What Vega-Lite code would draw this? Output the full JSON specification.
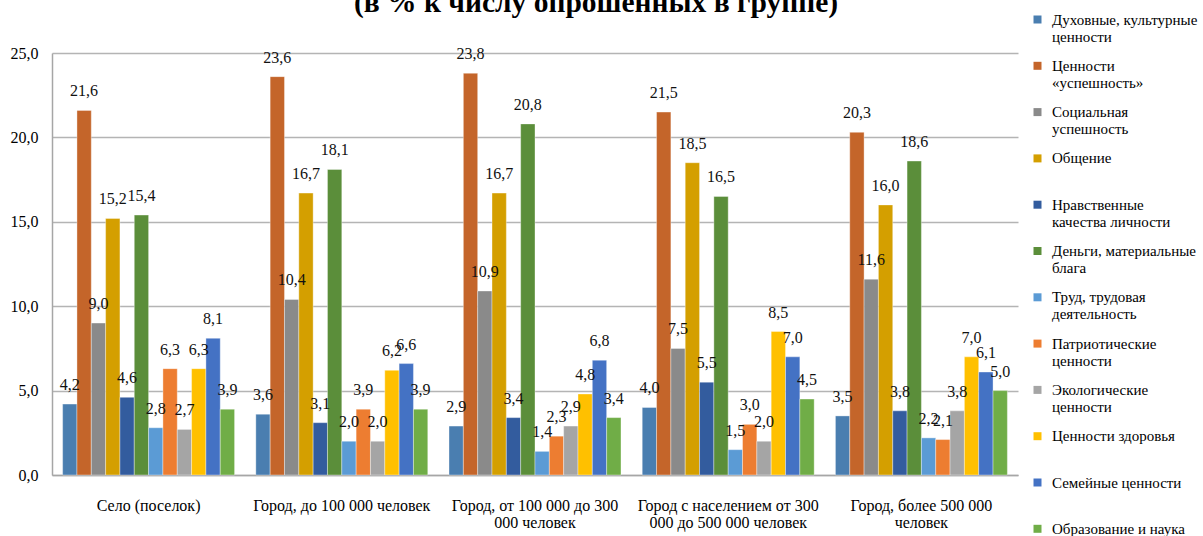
{
  "$schema": "https://vega.github.io/schema/vega-lite/v6.json",
  "width": 966,
  "height": 422,
  "autosize": {"type": "none"},
  "padding": {"left": 52, "top": 53, "right": 185, "bottom": 61},
  "background": "white",
  "title": {
    "text": "(в % к числу опрошенных в группе)",
    "font": "Liberation Serif, Times New Roman, serif",
    "fontSize": 29.5,
    "fontWeight": "bold",
    "color": "#000000",
    "anchor": "middle",
    "frame": "group",
    "dx": 61,
    "dy": 40,
    "offset": 34
  },
  "data": {
    "values": [
      {"g": "Село (поселок)", "s": "Духовные, культурные ценности", "v": 4.2},
      {"g": "Село (поселок)", "s": "Ценности «успешность»", "v": 21.6},
      {"g": "Село (поселок)", "s": "Социальная успешность", "v": 9.0},
      {"g": "Село (поселок)", "s": "Общение", "v": 15.2},
      {"g": "Село (поселок)", "s": "Нравственные качества личности", "v": 4.6},
      {"g": "Село (поселок)", "s": "Деньги, материальные блага", "v": 15.4},
      {"g": "Село (поселок)", "s": "Труд, трудовая деятельность", "v": 2.8},
      {"g": "Село (поселок)", "s": "Патриотические ценности", "v": 6.3},
      {"g": "Село (поселок)", "s": "Экологические ценности", "v": 2.7},
      {"g": "Село (поселок)", "s": "Ценности здоровья", "v": 6.3},
      {"g": "Село (поселок)", "s": "Семейные ценности", "v": 8.1},
      {"g": "Село (поселок)", "s": "Образование и наука", "v": 3.9},
      {"g": "Город, до 100 000 человек", "s": "Духовные, культурные ценности", "v": 3.6},
      {"g": "Город, до 100 000 человек", "s": "Ценности «успешность»", "v": 23.6},
      {"g": "Город, до 100 000 человек", "s": "Социальная успешность", "v": 10.4},
      {"g": "Город, до 100 000 человек", "s": "Общение", "v": 16.7},
      {"g": "Город, до 100 000 человек", "s": "Нравственные качества личности", "v": 3.1},
      {"g": "Город, до 100 000 человек", "s": "Деньги, материальные блага", "v": 18.1},
      {"g": "Город, до 100 000 человек", "s": "Труд, трудовая деятельность", "v": 2.0},
      {"g": "Город, до 100 000 человек", "s": "Патриотические ценности", "v": 3.9},
      {"g": "Город, до 100 000 человек", "s": "Экологические ценности", "v": 2.0},
      {"g": "Город, до 100 000 человек", "s": "Ценности здоровья", "v": 6.2},
      {"g": "Город, до 100 000 человек", "s": "Семейные ценности", "v": 6.6},
      {"g": "Город, до 100 000 человек", "s": "Образование и наука", "v": 3.9},
      {"g": "Город, от 100 000 до 300 000 человек", "s": "Духовные, культурные ценности", "v": 2.9},
      {"g": "Город, от 100 000 до 300 000 человек", "s": "Ценности «успешность»", "v": 23.8},
      {"g": "Город, от 100 000 до 300 000 человек", "s": "Социальная успешность", "v": 10.9},
      {"g": "Город, от 100 000 до 300 000 человек", "s": "Общение", "v": 16.7},
      {"g": "Город, от 100 000 до 300 000 человек", "s": "Нравственные качества личности", "v": 3.4},
      {"g": "Город, от 100 000 до 300 000 человек", "s": "Деньги, материальные блага", "v": 20.8},
      {"g": "Город, от 100 000 до 300 000 человек", "s": "Труд, трудовая деятельность", "v": 1.4},
      {"g": "Город, от 100 000 до 300 000 человек", "s": "Патриотические ценности", "v": 2.3},
      {"g": "Город, от 100 000 до 300 000 человек", "s": "Экологические ценности", "v": 2.9},
      {"g": "Город, от 100 000 до 300 000 человек", "s": "Ценности здоровья", "v": 4.8},
      {"g": "Город, от 100 000 до 300 000 человек", "s": "Семейные ценности", "v": 6.8},
      {"g": "Город, от 100 000 до 300 000 человек", "s": "Образование и наука", "v": 3.4},
      {"g": "Город с населением от 300 000 до 500 000 человек", "s": "Духовные, культурные ценности", "v": 4.0},
      {"g": "Город с населением от 300 000 до 500 000 человек", "s": "Ценности «успешность»", "v": 21.5},
      {"g": "Город с населением от 300 000 до 500 000 человек", "s": "Социальная успешность", "v": 7.5},
      {"g": "Город с населением от 300 000 до 500 000 человек", "s": "Общение", "v": 18.5},
      {"g": "Город с населением от 300 000 до 500 000 человек", "s": "Нравственные качества личности", "v": 5.5},
      {"g": "Город с населением от 300 000 до 500 000 человек", "s": "Деньги, материальные блага", "v": 16.5},
      {"g": "Город с населением от 300 000 до 500 000 человек", "s": "Труд, трудовая деятельность", "v": 1.5},
      {"g": "Город с населением от 300 000 до 500 000 человек", "s": "Патриотические ценности", "v": 3.0},
      {"g": "Город с населением от 300 000 до 500 000 человек", "s": "Экологические ценности", "v": 2.0},
      {"g": "Город с населением от 300 000 до 500 000 человек", "s": "Ценности здоровья", "v": 8.5},
      {"g": "Город с населением от 300 000 до 500 000 человек", "s": "Семейные ценности", "v": 7.0},
      {"g": "Город с населением от 300 000 до 500 000 человек", "s": "Образование и наука", "v": 4.5},
      {"g": "Город, более 500 000 человек", "s": "Духовные, культурные ценности", "v": 3.5},
      {"g": "Город, более 500 000 человек", "s": "Ценности «успешность»", "v": 20.3},
      {"g": "Город, более 500 000 человек", "s": "Социальная успешность", "v": 11.6},
      {"g": "Город, более 500 000 человек", "s": "Общение", "v": 16.0},
      {"g": "Город, более 500 000 человек", "s": "Нравственные качества личности", "v": 3.8},
      {"g": "Город, более 500 000 человек", "s": "Деньги, материальные блага", "v": 18.6},
      {"g": "Город, более 500 000 человек", "s": "Труд, трудовая деятельность", "v": 2.2},
      {"g": "Город, более 500 000 человек", "s": "Патриотические ценности", "v": 2.1},
      {"g": "Город, более 500 000 человек", "s": "Экологические ценности", "v": 3.8},
      {"g": "Город, более 500 000 человек", "s": "Ценности здоровья", "v": 7.0},
      {"g": "Город, более 500 000 человек", "s": "Семейные ценности", "v": 6.1},
      {"g": "Город, более 500 000 человек", "s": "Образование и наука", "v": 5.0}
    ]
  },
  "encoding": {
    "x": {
      "field": "g",
      "type": "nominal",
      "title": null,
      "sort": ["Село (поселок)", "Город, до 100 000 человек", "Город, от 100 000 до 300 000 человек", "Город с населением от 300 000 до 500 000 человек", "Город, более 500 000 человек"],
      "scale": {"paddingInner": 0.11, "paddingOuter": 0.055},
      "axis": {
        "labelAngle": 0,
        "ticks": false,
        "domainColor": "#a6a6a6",
        "domainWidth": 1.5,
        "labelFont": "Liberation Serif, Times New Roman, serif",
        "labelFontSize": 16,
        "labelColor": "#000000",
        "labelPadding": 22,
        "labelLineHeight": 17,
        "labelLimit": 300,
        "labelExpr": "datum.value == 'Город, от 100 000 до 300 000 человек' ? ['Город, от 100 000 до 300', '000 человек'] : datum.value == 'Город с населением от 300 000 до 500 000 человек' ? ['Город с населением от 300', '000 до 500 000 человек'] : datum.value == 'Город, более 500 000 человек' ? ['Город, более 500 000', 'человек'] : datum.label"
      }
    },
    "xOffset": {
      "field": "s",
      "type": "nominal",
      "sort": ["Духовные, культурные ценности", "Ценности «успешность»", "Социальная успешность", "Общение", "Нравственные качества личности", "Деньги, материальные блага", "Труд, трудовая деятельность", "Патриотические ценности", "Экологические ценности", "Ценности здоровья", "Семейные ценности", "Образование и наука"],
      "scale": {"paddingInner": 0, "paddingOuter": 0}
    },
    "y": {
      "field": "v",
      "type": "quantitative",
      "title": null,
      "scale": {"domain": [0, 25]},
      "axis": {
        "values": [0, 5, 10, 15, 20, 25],
        "format": ".1f",
        "ticks": false,
        "grid": true,
        "gridColor": "#b4b4b4",
        "gridWidth": 1.5,
        "domainColor": "#a6a6a6",
        "domainWidth": 1.5,
        "labelFont": "Liberation Serif, Times New Roman, serif",
        "labelFontSize": 16,
        "labelColor": "#000000",
        "labelPadding": 14
      }
    }
  },
  "layer": [
    {
      "mark": {"type": "bar", "stroke": "#ffffff", "strokeWidth": 0.6, "strokeOpacity": 0.6},
      "encoding": {
        "color": {
          "field": "s",
          "type": "nominal",
          "title": null,
          "scale": {
            "domain": ["Духовные, культурные ценности", "Ценности «успешность»", "Социальная успешность", "Общение", "Нравственные качества личности", "Деньги, материальные блага", "Труд, трудовая деятельность", "Патриотические ценности", "Экологические ценности", "Ценности здоровья", "Семейные ценности", "Образование и наука"],
            "range": ["#4A7EB0", "#C4652A", "#8A8A8A", "#D49F00", "#335C9E", "#5B8E3A", "#5B9BD5", "#ED7D31", "#A5A5A5", "#FFC000", "#4472C4", "#70AD47"]
          },
          "legend": {
            "orient": "none",
            "legendX": 978,
            "legendY": -41,
            "padding": 0,
            "symbolType": "square",
            "symbolSize": 64,
            "symbolStrokeWidth": 0,
            "labelFont": "Liberation Serif, Times New Roman, serif",
            "labelFontSize": 15,
            "labelColor": "#000000",
            "labelOffset": 7,
            "labelLimit": 200,
            "rowPadding": 13.3,
            "labelExpr": "datum.label == 'Духовные, культурные ценности' ? ['Духовные, культурные', 'ценности'] : datum.label == 'Ценности «успешность»' ? ['Ценности', '«успешность»'] : datum.label == 'Социальная успешность' ? ['Социальная', 'успешность'] : datum.label == 'Нравственные качества личности' ? ['Нравственные', 'качества личности'] : datum.label == 'Деньги, материальные блага' ? ['Деньги, материальные', 'блага'] : datum.label == 'Труд, трудовая деятельность' ? ['Труд, трудовая', 'деятельность'] : datum.label == 'Патриотические ценности' ? ['Патриотические', 'ценности'] : datum.label == 'Экологические ценности' ? ['Экологические', 'ценности'] : [datum.label, ' ']",
            "encode": {
              "labels": {"update": {"dy": {"value": 10.5}, "lineHeight": {"value": 21}}}
            }
          }
        }
      }
    },
    {
      "mark": {"type": "text", "dy": -19, "baseline": "middle", "font": "Liberation Serif, Times New Roman, serif", "fontSize": 16, "color": "#111111"},
      "encoding": {
        "text": {"field": "v", "type": "quantitative", "format": ".1f"}
      }
    }
  ],
  "config": {
    "locale": {"number": {"decimal": ",", "thousands": " ", "grouping": [3], "currency": ["", ""]}},
    "view": {"stroke": null}
  }
}
